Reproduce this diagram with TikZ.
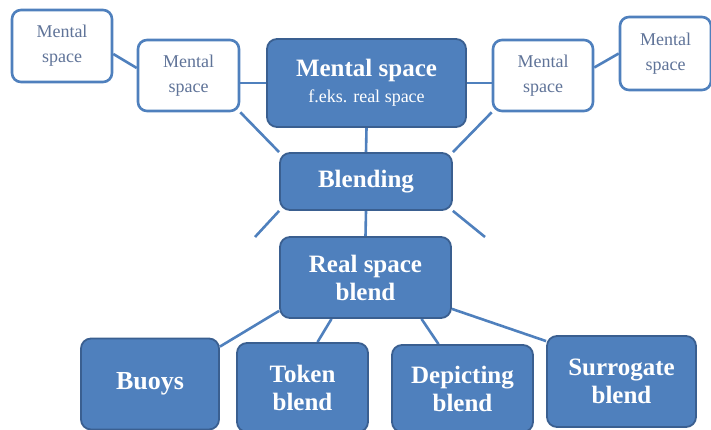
\documentclass[tikz,border=0pt]{standalone}
\usepackage{fontspec}
\setmainfont{Liberation Serif}
\usepackage{xcolor}
\usetikzlibrary{backgrounds}
\definecolor{boxblue}{HTML}{4F80BD}
\definecolor{boxedge}{HTML}{3A5F90}
\definecolor{spacetext}{HTML}{5F7398}

\begin{document}
\begin{tikzpicture}[x=1pt,y=-1pt,
    darkbox/.style={fill=boxblue,draw=boxedge,line width=1.8pt,rounded corners=10pt,
      text=white,align=center,inner sep=0pt,font=\fontsize{25}{28}\selectfont\bfseries},
    spacebox/.style={fill=white,draw=boxblue,line width=2.6pt,rounded corners=9pt,
      text=spacetext,align=center,inner sep=0pt,font=\fontsize{18}{25}\selectfont},
    link/.style={draw=boxblue,line width=2.6pt}]
    \useasboundingbox (0,0) rectangle (711,430);

    % mental spaces
    \node [spacebox,minimum width=100pt,minimum height=72pt] (outerL) at (62,46) {Mental\\space};
    \node [spacebox,minimum width=101pt,minimum height=71pt] (innerL) at (188.5,75.5) {Mental\\space};
    \node [spacebox,minimum width=100pt,minimum height=71pt] (innerR) at (543,75.5) {Mental\\space};
    \node [spacebox,minimum width=91pt,minimum height=73pt] (outerR) at (665.5,53.5) {Mental\\space};
    \node [darkbox,minimum width=199pt,minimum height=88pt] (main) at (366.5,83)
    {{\fontsize{25}{22}\selectfont Mental space}\\[-2pt]{\mdseries\fontsize{18}{22}\selectfont f.eks. real space}};

    % blends
    \node [darkbox,minimum width=172pt,minimum height=57pt] (blend) at (366,181.5) {Blending};
    \node [darkbox,minimum width=171pt,minimum height=81pt] (real) at (365.5,277.5) {Real space\\blend};
    \node [darkbox,minimum width=138pt,minimum height=91pt] (buoys) at (150,384) {\fontsize{26}{28}\selectfont Buoys};
    \node [darkbox,minimum width=131pt,minimum height=89pt] (token) at (302.5,387.5) {Token\\blend};
    \node [darkbox,minimum width=141pt,minimum height=87pt] (depict) at (462.5,388.5) {Depicting\\blend};
    \node [darkbox,minimum width=149pt,minimum height=91pt] (surr) at (621.5,381.5) {Surrogate\\blend};

    \coordinate (freeL) at (255,237);
    \coordinate (freeR) at (485,237);

    \begin{pgfonlayer}{background}
    \draw [link] ([yshift=-8pt]outerL.east) -- ([yshift=7.5pt]innerL.west);
    \draw [link] (main.west) -- (main.west -| innerL.east);
    \draw [link] (main.east) -- (main.east -| innerR.west);
    \draw [link] ([yshift=8pt]innerR.east) -- (outerR.west);
    \draw [link] (innerL.south east) -- (blend.north west);
    \draw [link] (innerR.south west) -- (blend.north east);
    \draw [link] (main.south) -- (blend.north);
    \draw [link] (blend.south) -- (real.north);
    \draw [link] (blend.south west) -- (freeL);
    \draw [link] (blend.south east) -- (freeR);
    \draw [link] ([yshift=8pt]real.south west) -- ([yshift=-9pt]buoys.north east);
    \draw [link] ([xshift=-34pt]real.south) -- ([xshift=15pt]token.north);
    \draw [link] ([xshift=56pt]real.south) -- ([xshift=-24pt]depict.north);
    \draw [link] ([yshift=10pt]real.south east) -- ([yshift=-6pt]surr.north west);
    \end{pgfonlayer}
\end{tikzpicture}
\end{document}
